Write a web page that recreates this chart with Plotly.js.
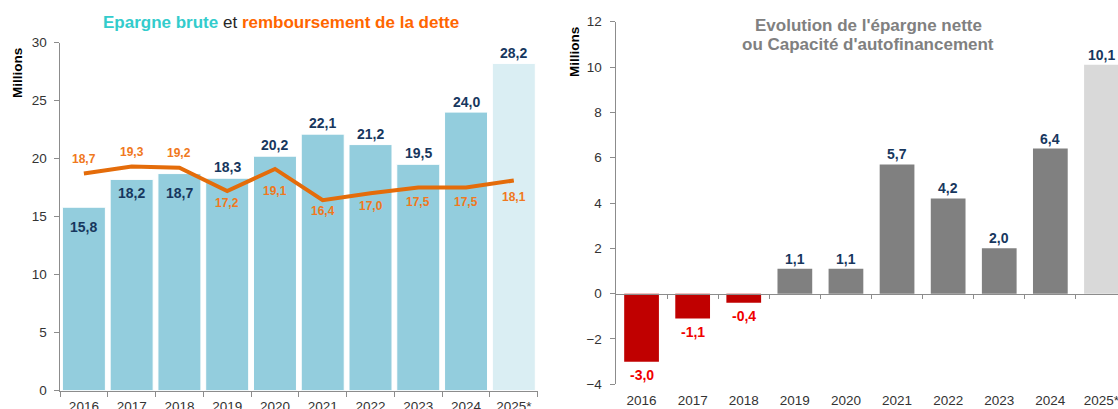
<!DOCTYPE html>
<html>
<head>
<meta charset="utf-8">
<script src="https://cdn.plot.ly/plotly-3.0.1.min.js"></script>
<style>html,body{margin:0;padding:0;background:#fff;}#chart{width:1118px;height:409px;}</style>
</head>
<body>
<div id="chart"></div>
<script>
// ---- data ----
const years = ["2016","2017","2018","2019","2020","2021","2022","2023","2024","2025*"];
const epargneBrute = [15.8, 18.2, 18.7, 18.3, 20.2, 22.1, 21.2, 19.5, 24.0, 28.2];
const remboursement = [18.7, 19.3, 19.2, 17.2, 19.1, 16.4, 17.0, 17.5, 17.5, 18.1];
const epargneNette = [-3.0, -1.1, -0.4, 1.1, 1.1, 5.7, 4.2, 2.0, 6.4, 10.1];

// ---- style (label offsets in px, not data) ----
const brutLabelShift = [-20, -14, -19, 11, 11, 11, 11, 11, 10, 10];
const rembLabelShift = [15, 15, 15, -12, -22, -11, -13, -14, -14, -16];
const FONT = "Liberation Sans, Arial, sans-serif";
const W = 1118, H = 409;
const xp = px => px / W;
const yp = py => 1 - py / H;
const fmt = v => v.toFixed(1).replace('.', ',');

// geometry
const L = {x0: 60, x1: 537.7, yBot: 390.5, yTop: 42.5};
const R = {x0: 616, cat: 51.1, yBot: 384.3, yTop: 21.7};
const rRangeMax = -0.5 + (W - R.x0) / R.cat;
const rY = [-4, 12];
const rDom = [yp(R.yBot), yp(R.yTop)];
const zeroPos = rDom[0] + (0 - rY[0]) / (rY[1] - rY[0]) * (rDom[1] - rDom[0]);

const brutColors = years.map((y, i) => i === years.length - 1 ? "#DAEEF3" : "#93CDDD");
const netColors = epargneNette.map((v, i) => i === years.length - 1 ? "#D9D9D9" : (v < 0 ? "#C00000" : "#808080"));

const traces = [
  {type: "bar", x: years, y: epargneBrute, xaxis: "x", yaxis: "y",
   marker: {color: brutColors, line: {color: "#ffffff", width: 1}}, hoverinfo: "skip"},
  {type: "scatter", mode: "lines", x: years, y: remboursement, xaxis: "x", yaxis: "y",
   line: {color: "#E46C0A", width: 4}, hoverinfo: "skip"},
  {type: "bar", x: years, y: epargneNette, xaxis: "x2", yaxis: "y2", width: 0.68,
   marker: {color: netColors}, hoverinfo: "skip"},
  {type: "scatter", mode: "lines", x: [], y: [], xaxis: "x3", yaxis: "y2", hoverinfo: "skip", showlegend: false}
];

const annotations = [];
epargneBrute.forEach((v, i) => annotations.push({
  xref: "x", yref: "y", x: i, y: v, yshift: brutLabelShift[i], yanchor: "middle",
  text: "<b>" + fmt(v) + "</b>", showarrow: false,
  font: {family: FONT, size: 14, color: "#17375E"}
}));
remboursement.forEach((v, i) => annotations.push({
  xref: "x", yref: "y", x: i, y: v, yshift: rembLabelShift[i], yanchor: "middle",
  text: "<b>" + fmt(v) + "</b>", showarrow: false,
  font: {family: FONT, size: 12, color: "#F07820"}
}));
epargneNette.forEach((v, i) => annotations.push({
  xref: "x2", yref: "y2", x: i, y: v, yshift: v < 0 ? -13 : 10, yanchor: "middle",
  text: "<b>" + fmt(v) + "</b>", showarrow: false,
  font: {family: FONT, size: 14, color: v < 0 ? "#F00000" : "#17375E"}
}));
// titles
annotations.push({
  xref: "paper", yref: "paper", x: xp(281), y: yp(23), xanchor: "center", yanchor: "middle", showarrow: false,
  text: '<b><span style="color:#33CCCC">Epargne brute</span></b> <span style="color:#262626">et</span> <b><span style="color:#FF6600">remboursement de la dette</span></b>',
  font: {family: FONT, size: 17}
});
annotations.push({
  xref: "paper", yref: "paper", x: xp(868), y: yp(25), xanchor: "center", yanchor: "middle", showarrow: false,
  text: "<b>Evolution de l'épargne nette</b>", font: {family: FONT, size: 17, color: "#808080"}
});
annotations.push({
  xref: "paper", yref: "paper", x: xp(868), y: yp(44), xanchor: "center", yanchor: "middle", showarrow: false,
  text: "<b>ou Capacité d'autofinancement</b>", font: {family: FONT, size: 17, color: "#808080"}
});
// Millions
annotations.push({
  xref: "paper", yref: "paper", x: xp(17), y: yp(73), xanchor: "center", yanchor: "middle", showarrow: false,
  textangle: -90, text: "<b>Millions</b>", font: {family: FONT, size: 13.5, color: "#000000"}
});
annotations.push({
  xref: "paper", yref: "paper", x: xp(574), y: yp(52), xanchor: "center", yanchor: "middle", showarrow: false,
  textangle: -90, text: "<b>Millions</b>", font: {family: FONT, size: 13.5, color: "#000000"}
});

const tickFont = {family: FONT, size: 13.5, color: "#333333"};
const layout = {
  width: W, height: H,
  margin: {l: 0, r: 0, t: 0, b: 0},
  paper_bgcolor: "#ffffff", plot_bgcolor: "rgba(0,0,0,0)",
  showlegend: false, bargap: 0.1,
  font: {family: FONT},
  xaxis: {domain: [xp(L.x0), xp(L.x1)], anchor: "y", type: "category", range: [-0.5, years.length - 0.5],
    showline: true, linecolor: "#8C8C8C", linewidth: 1.5,
    ticks: "outside", ticklen: 5, tickcolor: "#8C8C8C", tickson: "boundaries", ticklabelstandoff: 3,
    tickfont: tickFont, showgrid: false, zeroline: false, fixedrange: true},
  yaxis: {domain: [yp(L.yBot), yp(L.yTop)], anchor: "x", range: [0, 30], dtick: 5,
    showline: true, linecolor: "#8C8C8C", linewidth: 1.5,
    ticks: "outside", ticklen: 5, tickcolor: "#8C8C8C", ticklabelstandoff: 4,
    tickfont: tickFont, showgrid: false, zeroline: false, fixedrange: true},
  xaxis2: {domain: [xp(R.x0), 1], anchor: "y2", type: "category", range: [-0.5, rRangeMax],
    showline: false, ticks: "outside", ticklen: 3, tickcolor: "rgba(0,0,0,0)",
    tickfont: tickFont, showgrid: false, zeroline: false, fixedrange: true},
  xaxis3: {overlaying: "x2", anchor: "free", position: zeroPos, range: [-0.5, rRangeMax],
    tickvals: [0.5, 1.5, 2.5, 3.5, 4.5, 5.5, 6.5, 7.5, 8.5], showticklabels: false,
    showline: true, linecolor: "#8C8C8C", linewidth: 1.5,
    ticks: "outside", ticklen: 4, tickcolor: "#8C8C8C",
    showgrid: false, zeroline: false, fixedrange: true},
  yaxis2: {domain: rDom, anchor: "x2", range: rY, dtick: 2,
    showline: true, linecolor: "#8C8C8C", linewidth: 1.5,
    ticks: "outside", ticklen: 5, tickcolor: "#8C8C8C", ticklabelstandoff: 5,
    tickfont: tickFont, showgrid: false, zeroline: false, fixedrange: true},
  annotations: annotations
};
Plotly.newPlot("chart", traces, layout, {displayModeBar: false, staticPlot: true});
</script>
</body>
</html>
